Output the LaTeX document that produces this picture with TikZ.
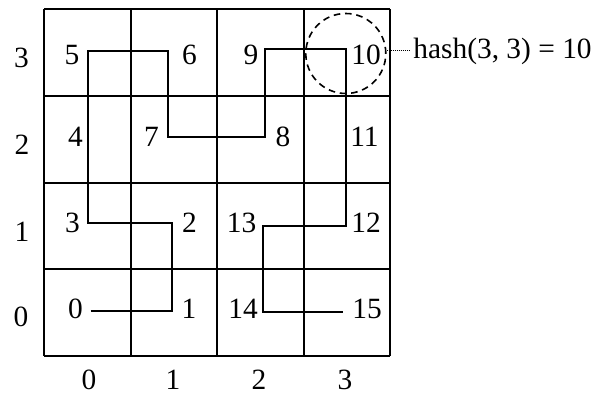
\documentclass[tikz,border=0pt]{standalone}
\usepackage{fontspec}
\setmainfont{Liberation Serif}
\begin{document}
\begin{tikzpicture}[x=0.5pt,y=-0.5pt,
  gridline/.style={line width=1pt},
  curve/.style={line width=1pt},
  lbl/.style={inner sep=0pt,font=\fontsize{14.7}{17}\selectfont},
  hl/.style={draw,dashed,circle,line width=0.8pt,minimum size=40pt,inner sep=0pt,dash pattern=on 3.3pt off 2.4pt}]
\useasboundingbox (0,0) rectangle (606,394);
% grid
\foreach \x in {44,130.5,217,303.5,390} \draw[gridline] (\x,9.5) -- (\x,356);
\foreach \y in {9.5,96.2,182.8,269.4,356} \draw[gridline] (44,\y) -- (390,\y);
% axis labels
\node[lbl] (r3) at (21.5,58) {3};
\node[lbl] (r2) at (22,145) {2};
\node[lbl] (r1) at (22,232) {1};
\node[lbl] (r0) at (21,317) {0};
\node[lbl] (k0) at (89,380) {0};
\node[lbl] (k1) at (173,380) {1};
\node[lbl] (k2) at (259,380) {2};
\node[lbl] (k3) at (345,380) {3};
% curve vertices
\coordinate (c0) at (90.7,310.7);
\coordinate (c1) at (172.3,310.7);
\coordinate (c2) at (172.3,223.3);
\coordinate (c3) at (88.3,223.3);
\coordinate (c4) at (88.3,137.3);
\coordinate (c5) at (88.3,50.7);
\coordinate (c6) at (168.3,50.7);
\coordinate (c7) at (168.3,137.3);
\coordinate (c8) at (265,137.3);
\coordinate (c9) at (265,49.3);
\coordinate (c10) at (345.7,49.3);
\coordinate (c11) at (345.7,137.3);
\coordinate (c12) at (345.7,225.7);
\coordinate (c13) at (262.7,225.7);
\coordinate (c14) at (262.7,311.7);
\coordinate (c15) at (343.3,311.7);
\draw[curve] (c0) -- (c1) -- (c2) -- (c3) -- (c4) -- (c5) -- (c6) -- (c7) -- (c8) -- (c9) -- (c10) -- (c11) -- (c12) -- (c13) -- (c14) -- (c15);
% cell labels
\node[lbl] (l0) at (75.5,309) {0};
\node[lbl] (l1) at (189,309) {1};
\node[lbl] (l2) at (189.5,223) {2};
\node[lbl] (l3) at (72.5,223) {3};
\node[lbl] (l4) at (75.5,137) {4};
\node[lbl] (l5) at (72,55) {5};
\node[lbl] (l6) at (189.5,55) {6};
\node[lbl] (l7) at (151.5,137) {7};
\node[lbl] (l8) at (283,137) {8};
\node[lbl] (l9) at (251,55) {9};
\node[lbl] (l10) at (366,55) {10};
\node[lbl] (l11) at (364.5,137) {11};
\node[lbl] (l12) at (366,223) {12};
\node[lbl] (l13) at (241.5,223) {13};
\node[lbl] (l14) at (243,309) {14};
\node[lbl] (l15) at (367,309) {15};
% highlight
\node[hl] (hc) at (345.8,53.5) {};
\node[lbl,anchor=west] (ht) at (413,51) {hash(3, 3) = 10};
\draw[dotted,line width=0.5pt,dash pattern=on 0.5pt off 0.5pt] (hc.east |- ht.west) -- ([xshift=-1.5pt]ht.west);
\end{tikzpicture}
\end{document}
